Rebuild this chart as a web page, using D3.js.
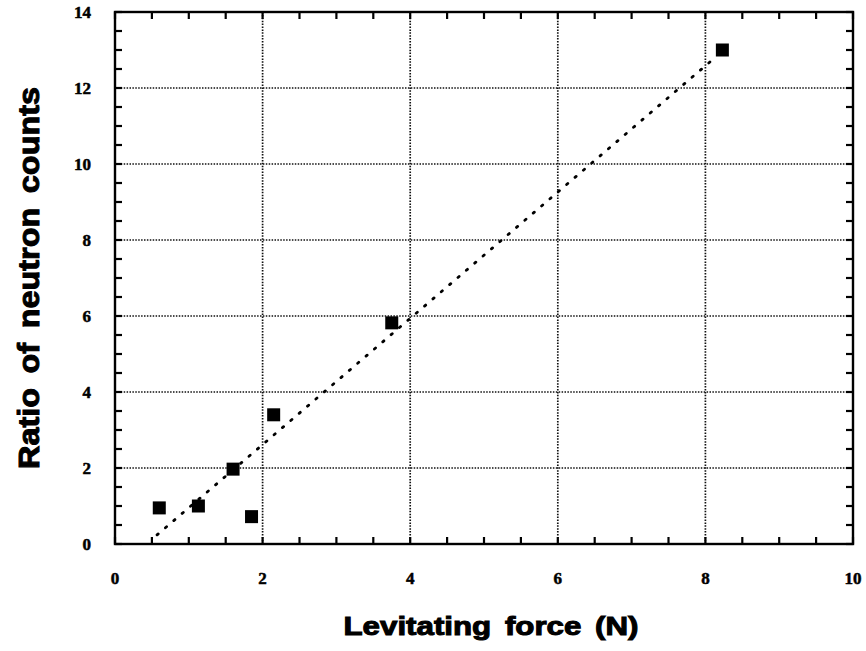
<!DOCTYPE html>
<html>
<head>
<meta charset="utf-8">
<script src="https://cdn.jsdelivr.net/npm/d3@7"></script>
<style>
	body { margin: 0; background: #fff; }
</style>
</head>
<body>
<script>
// data
var forceN = [0.6, 1.13, 1.6, 1.85, 2.15, 3.75, 8.23];
var countRatio = [0.95, 1.0, 1.97, 0.72, 3.4, 5.82, 13.0];
// dotted fit line, two end points (force, ratio)
var fitLine = [[0.57, 0.24], [8.13, 12.8]];

var xTicks = [0, 2, 4, 6, 8, 10];
var yTicks = [0, 2, 4, 6, 8, 10, 12, 14];
var xMinor = d3.range(0, 10.01, 0.5);
var yMinor = d3.range(0, 14.01, 0.5);

// container
var W = 866, H = 651;
var pLeft = 115, pRight = 853, pTop = 12, pBottom = 544;

var svg = d3.select("body").append("svg")
	.attr("width", W)
	.attr("height", H);

var x = d3.scaleLinear().domain([0, 10]).range([pLeft, pRight]);
var y = d3.scaleLinear().domain([0, 14]).range([pBottom, pTop]);

// grid (dotted, major ticks only)
svg.append("g").selectAll("line")
	.data(xTicks.slice(1, -1))
	.enter().append("line")
	.attr("x1", function(d){ return x(d); })
	.attr("x2", function(d){ return x(d); })
	.attr("y1", pTop).attr("y2", pBottom)
	.attr("stroke", "#111")
	.attr("stroke-width", 1.7)
	.attr("stroke-dasharray", "1.5,1.4");

svg.append("g").selectAll("line")
	.data(yTicks.slice(1, -1))
	.enter().append("line")
	.attr("y1", function(d){ return y(d); })
	.attr("y2", function(d){ return y(d); })
	.attr("x1", pLeft).attr("x2", pRight)
	.attr("stroke", "#111")
	.attr("stroke-width", 1.7)
	.attr("stroke-dasharray", "1.5,1.4");

// frame
svg.append("rect")
	.attr("x", pLeft).attr("y", pTop)
	.attr("width", pRight - pLeft).attr("height", pBottom - pTop)
	.attr("fill", "none")
	.attr("stroke", "#000")
	.attr("stroke-width", 2.4);

// inward ticks on all four sides
var tlen = 7;
var ticks = svg.append("g").attr("stroke", "#000").attr("stroke-width", 2.2);
xMinor.forEach(function(d){
	ticks.append("line").attr("x1", x(d)).attr("x2", x(d)).attr("y1", pBottom).attr("y2", pBottom - tlen);
	ticks.append("line").attr("x1", x(d)).attr("x2", x(d)).attr("y1", pTop).attr("y2", pTop + tlen);
});
yMinor.forEach(function(d){
	ticks.append("line").attr("y1", y(d)).attr("y2", y(d)).attr("x1", pLeft).attr("x2", pLeft + tlen);
	ticks.append("line").attr("y1", y(d)).attr("y2", y(d)).attr("x1", pRight).attr("x2", pRight - tlen);
});

// tick labels
svg.append("g").selectAll("text")
	.data(xTicks)
	.enter().append("text")
	.attr("x", function(d){ return x(d); })
	.attr("y", 584)
	.attr("text-anchor", "middle")
	.style("font-family", "'Liberation Serif', serif")
	.style("font-weight", "bold")
	.style("font-size", "17px")
	.style("stroke", "#000")
	.style("stroke-width", 0.5)
	.text(function(d){ return d; });

svg.append("g").selectAll("text")
	.data(yTicks)
	.enter().append("text")
	.attr("x", 91)
	.attr("y", function(d){ return y(d) + 6; })
	.attr("text-anchor", "end")
	.style("font-family", "'Liberation Serif', serif")
	.style("font-weight", "bold")
	.style("font-size", "17px")
	.style("stroke", "#000")
	.style("stroke-width", 0.5)
	.text(function(d){ return d; });

// fit line
svg.append("line")
	.attr("x1", x(fitLine[0][0])).attr("y1", y(fitLine[0][1]))
	.attr("x2", x(fitLine[1][0])).attr("y2", y(fitLine[1][1]))
	.attr("stroke", "#000")
	.attr("stroke-width", 2.8)
	.attr("stroke-linecap", "round")
	.attr("stroke-dasharray", "1.5,9.5");

// points
var sz = 13;
svg.append("g").selectAll("rect")
	.data(forceN)
	.enter().append("rect")
	.attr("x", function(d){ return x(d) - sz / 2; })
	.attr("y", function(d,i){ return y(countRatio[i]) - sz / 2; })
	.attr("width", sz).attr("height", sz)
	.attr("fill", "#000");

// axis titles
svg.append("text")
	.attr("x", 491).attr("y", 635)
	.attr("text-anchor", "middle")
	.attr("textLength", 295)
	.attr("lengthAdjust", "spacingAndGlyphs")
	.style("font-family", "'Liberation Sans', Arial, sans-serif")
	.style("font-weight", "bold")
	.style("font-size", "25px")
	.style("stroke", "#000")
	.style("stroke-width", 1)
	.style("word-spacing", "4px")
	.text("Levitating force (N)");

svg.append("text")
	.attr("transform", "translate(39,278) rotate(-90)")
	.attr("text-anchor", "middle")
	.attr("textLength", 382)
	.attr("lengthAdjust", "spacingAndGlyphs")
	.style("font-family", "'Liberation Sans', Arial, sans-serif")
	.style("font-weight", "bold")
	.style("font-size", "29px")
	.style("stroke", "#000")
	.style("stroke-width", 1)
	.style("word-spacing", "5px")
	.text("Ratio of neutron counts");
</script>
</body>
</html>
